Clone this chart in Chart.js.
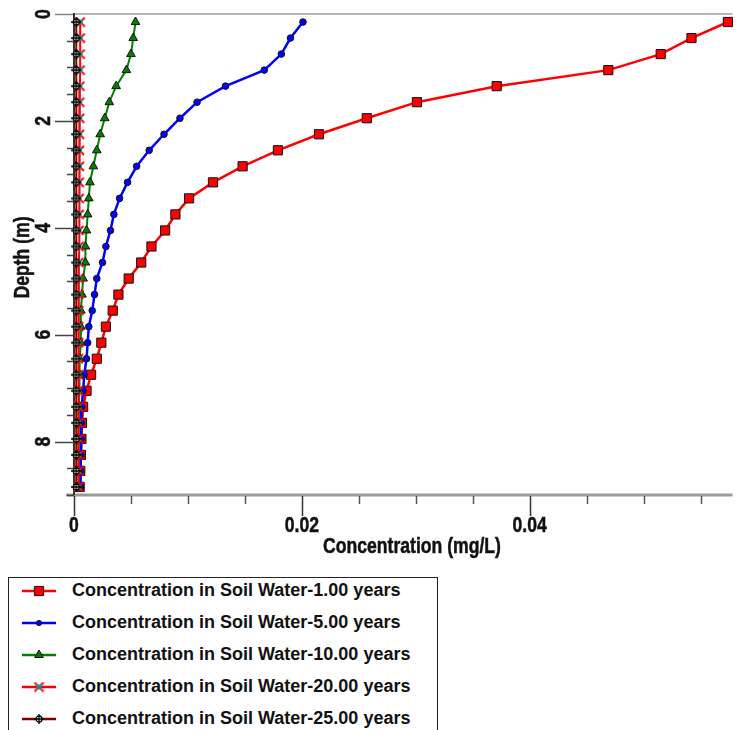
<!DOCTYPE html>
<html>
<head>
<meta charset="utf-8">
<script src="https://cdn.jsdelivr.net/npm/chart.js@4.4.1/dist/chart.umd.min.js"></script>
<style>
  html, body { margin: 0; padding: 0; background: #fff; width: 740px; height: 730px; overflow: hidden; }
  #grafica { position: absolute; left: 0; top: 0; }
  #leyenda {
    position: absolute; left: 8px; top: 577px; width: 430px; height: 170px;
    border: 1px solid #222; box-sizing: border-box;
    font: bold 18px "Liberation Sans", Arial, sans-serif; color: #111;
  }
  .fila { position: absolute; left: 0; height: 30px; white-space: nowrap; }
  .fila canvas { position: absolute; left: 0; top: 0; }
  .fila span { position: absolute; left: 63px; top: 4px; }
</style>
</head>
<body>
<canvas id="grafica" width="740" height="560"></canvas>
<div id="leyenda"></div>
<script>
// profundidades (m) de cada nodo
const profundidades = [0.15, 0.45, 0.75, 1.05, 1.35, 1.65, 1.95, 2.25, 2.55, 2.85,
  3.15, 3.45, 3.75, 4.05, 4.35, 4.65, 4.95, 5.25, 5.55, 5.85,
  6.15, 6.45, 6.75, 7.05, 7.35, 7.65, 7.95, 8.25, 8.55, 8.85];

// concentraciones (mg/L)
const conc1 = [0.0574, 0.0542, 0.0515, 0.0469, 0.0371, 0.0301, 0.0257, 0.0215, 0.0179, 0.0148,
  0.0122, 0.0101, 0.0089, 0.0080, 0.0068, 0.0059, 0.0048, 0.0039, 0.0034, 0.0028,
  0.0024, 0.0020, 0.0015, 0.0011, 0.0008, 0.0007, 0.00065, 0.0006, 0.00055, 0.0005];
const conc5 = [0.0201, 0.0190, 0.0182, 0.0167, 0.0133, 0.0108, 0.0093, 0.0079, 0.0066, 0.0055,
  0.0047, 0.0040, 0.0035, 0.0032, 0.0028, 0.0025, 0.0020, 0.0018, 0.0016, 0.0013,
  0.0012, 0.0011, 0.0009, 0.0008, 0.00068, 0.00065, 0.00063, 0.0006, 0.00058, 0.00057];
const conc10 = [0.0054, 0.0052, 0.0050, 0.0046, 0.0037, 0.0031, 0.0027, 0.0023, 0.0020, 0.0017,
  0.0014, 0.0013, 0.0012, 0.0011, 0.0010, 0.0010, 0.0008, 0.0007, 0.0006, 0.0006,
  0.0006, 0.0005, 0.0005, 0.00045, 0.00042, 0.0004, 0.0004, 0.0004, 0.0004, 0.0004];
const conc20 = [0.00055, 0.00055, 0.00054, 0.00053, 0.00052, 0.0005, 0.0005, 0.00049, 0.00048, 0.00047,
  0.00046, 0.00045, 0.00045, 0.00044, 0.00044, 0.00043, 0.00043, 0.00042, 0.00042, 0.00041,
  0.00041, 0.0004, 0.0004, 0.0004, 0.0004, 0.00039, 0.00039, 0.00038, 0.00038, 0.00038];
const conc25 = [0.0002, 0.0002, 0.0002, 0.0002, 0.0002, 0.0002, 0.0002, 0.0002, 0.0002, 0.0002,
  0.0002, 0.0002, 0.0002, 0.0002, 0.0002, 0.0002, 0.0002, 0.0002, 0.0002, 0.0002,
  0.0002, 0.0002, 0.0002, 0.0002, 0.0002, 0.0002, 0.0002, 0.0002, 0.0002, 0.0002];

const etiquetasSerie = [
  'Concentration in Soil Water-1.00 years',
  'Concentration in Soil Water-5.00 years',
  'Concentration in Soil Water-10.00 years',
  'Concentration in Soil Water-20.00 years',
  'Concentration in Soil Water-25.00 years'
];

const ticksX = [0, 0.005, 0.01, 0.015, 0.02, 0.025, 0.03, 0.035, 0.04, 0.045, 0.05, 0.055];
const etiquetasX = { 0: '0', 0.02: '0.02', 0.04: '0.04' };
const ticksY = [0, 0.5, 1, 1.5, 2, 2.5, 3, 3.5, 4, 4.5, 5, 5.5, 6, 6.5, 7, 7.5, 8, 8.5, 9];
const etiquetasY = { 0: '0', 2: '2', 4: '4', 6: '6', 8: '8' };

// fuente de los ejes (se estrecha con una escala horizontal)
const fuenteEje = 'bold 22px "Liberation Sans", Arial, sans-serif';
const estrechar = 0.8;

// marcador de la serie de 20 años: cuadro turquesa con aspa roja
function marcadorAspa(tam) {
  const c = document.createElement('canvas');
  c.width = tam; c.height = tam;
  const g = c.getContext('2d');
  const m = tam / 2;
  g.strokeStyle = '#ff0000';
  g.lineWidth = 2;
  g.beginPath();
  g.moveTo(1, 1); g.lineTo(tam - 1, tam - 1);
  g.moveTo(tam - 1, 1); g.lineTo(1, tam - 1);
  g.stroke();
  g.fillStyle = '#1f8a8a';
  g.fillRect(m - 2.5, m - 2.5, 5, 5);
  return c;
}

// marcador de la serie de 25 años: círculo blanco con cruz
function marcadorCirculoCruz(tam) {
  const c = document.createElement('canvas');
  c.width = tam; c.height = tam;
  const g = c.getContext('2d');
  const m = tam / 2;
  g.fillStyle = '#fff';
  g.strokeStyle = '#000';
  g.lineWidth = 1.3;
  g.beginPath();
  g.arc(m, m, m - 2, 0, Math.PI * 2);
  g.fill(); g.stroke();
  g.beginPath();
  g.moveTo(m, 0); g.lineTo(m, tam);
  g.moveTo(0, m); g.lineTo(tam, m);
  g.stroke();
  return c;
}

const img20 = marcadorAspa(11);
const img25 = marcadorCirculoCruz(10);

function puntos(valores) {
  return valores.map((v, i) => ({ x: v, y: profundidades[i] }));
}

const series = [
  { datos: conc1, color: '#ff0000', fondo: '#ff0000', estilo: 'rect', radio: 6.5, grosor: 2.5, orden: 4 },
  { datos: conc5, color: '#0000ff', fondo: '#0000ff', estilo: 'circle', radio: 3.3, grosor: 2.5, orden: 3 },
  { datos: conc10, color: '#008000', fondo: '#008000', estilo: 'triangle', radio: 5, grosor: 2, orden: 2 },
  { datos: conc20, color: '#ff0000', fondo: '#1f8a8a', estilo: img20, radio: 5, grosor: 2, orden: 1 },
  { datos: conc25, color: '#800000', fondo: '#ffffff', estilo: img25, radio: 5, grosor: 2, orden: 0 }
];

function textoEstrecho(ctx, texto, x, y, angulo) {
  ctx.save();
  ctx.translate(x, y);
  if (angulo) ctx.rotate(angulo);
  ctx.scale(estrechar, 1);
  ctx.fillText(texto, 0, 0);
  ctx.lineWidth = 0.5;
  ctx.strokeStyle = '#111';
  ctx.strokeText(texto, 0, 0);
  ctx.restore();
}

// ejes dibujados a mano con las escalas de Chart.js
const pluginEjes = {
  id: 'ejes',
  beforeDatasetsDraw(chart) {
    const { ctx, chartArea: { left, right, top, bottom }, scales: { x, y } } = chart;
    ctx.save();
    // borde superior
    ctx.strokeStyle = '#b4b4b4';
    ctx.lineWidth = 2;
    ctx.beginPath(); ctx.moveTo(left, top); ctx.lineTo(right, top); ctx.stroke();
    // eje x
    ctx.strokeStyle = '#9a9a9a';
    ctx.lineWidth = 3;
    ctx.beginPath(); ctx.moveTo(left - 8, bottom); ctx.lineTo(right, bottom); ctx.stroke();
    // marcas x
    ctx.lineWidth = 1.5;
    ticksX.forEach(v => {
      const px = Math.round(x.getPixelForValue(v)) + 0.5;
      const mayor = etiquetasX[v] !== undefined;
      ctx.strokeStyle = mayor ? '#333' : '#555';
      ctx.beginPath(); ctx.moveTo(px, bottom + 1); ctx.lineTo(px, bottom + (mayor ? 21 : 9)); ctx.stroke();
    });
    // marcas y
    ticksY.forEach(v => {
      const py = Math.round(y.getPixelForValue(v)) + 0.5;
      const mayor = etiquetasY[v] !== undefined;
      ctx.strokeStyle = v === 0 ? '#888' : '#444';
      ctx.beginPath(); ctx.moveTo(left - (mayor ? 19 : 7), py); ctx.lineTo(left, py); ctx.stroke();
    });
    // eje y
    ctx.strokeStyle = '#333';
    ctx.lineWidth = 2;
    ctx.beginPath(); ctx.moveTo(left, top - 1); ctx.lineTo(left, bottom); ctx.stroke();

    // textos
    ctx.fillStyle = '#111';
    ctx.font = fuenteEje;
    ctx.textAlign = 'center';
    ctx.textBaseline = 'top';
    Object.keys(etiquetasX).forEach(k => {
      textoEstrecho(ctx, etiquetasX[k], x.getPixelForValue(Number(k)), bottom + 20);
    });
    textoEstrecho(ctx, 'Concentration (mg/L)', 412, bottom + 41);

    ctx.textBaseline = 'middle';
    Object.keys(etiquetasY).forEach(k => {
      textoEstrecho(ctx, etiquetasY[k], 44, y.getPixelForValue(Number(k)), -Math.PI / 2);
    });
    textoEstrecho(ctx, 'Depth (m)', 23, (top + bottom) / 2 + 3, -Math.PI / 2);
    ctx.restore();
  }
};

const grafica = new Chart(document.getElementById('grafica').getContext('2d'), {
  type: 'scatter',
  data: {
    datasets: series.map((s, i) => ({
      label: etiquetasSerie[i],
      data: puntos(s.datos),
      showLine: true,
      borderColor: s.color,
      backgroundColor: s.fondo,
      borderWidth: s.grosor,
      pointStyle: s.estilo,
      pointRadius: s.radio,
      pointBorderColor: '#111',
      pointBorderWidth: 1,
      pointBackgroundColor: s.fondo,
      tension: 0,
      clip: false,
      order: s.orden
    }))
  },
  options: {
    responsive: false,
    animation: false,
    devicePixelRatio: 1,
    layout: { padding: { left: 74, top: 14, right: 0, bottom: 65 } },
    scales: {
      x: { type: 'linear', min: 0, max: 0.0578, display: false },
      y: { type: 'linear', min: 0, max: 9, reverse: true, display: false }
    },
    plugins: { legend: { display: false }, tooltip: { enabled: false } }
  },
  plugins: [pluginEjes]
});

// leyenda en HTML con muestras de línea y marcador
const leyenda = document.getElementById('leyenda');
series.forEach((s, i) => {
  const fila = document.createElement('div');
  fila.className = 'fila';
  fila.style.top = (-2 + i * 32) + 'px';
  fila.style.width = '420px';
  const muestra = document.createElement('canvas');
  muestra.width = 60; muestra.height = 30;
  const g = muestra.getContext('2d');
  g.strokeStyle = s.color;
  g.lineWidth = 2.5;
  g.beginPath(); g.moveTo(13, 15); g.lineTo(47, 15); g.stroke();
  g.fillStyle = s.fondo;
  g.strokeStyle = '#111';
  g.lineWidth = 1;
  const radioLeyenda = s.estilo === 'circle' ? 2.6 : s.radio;
  Chart.helpers.drawPoint(g, { pointStyle: s.estilo, radius: radioLeyenda, borderWidth: 1, rotation: 0 }, 30, 15);
  const texto = document.createElement('span');
  texto.textContent = etiquetasSerie[i];
  fila.appendChild(muestra);
  fila.appendChild(texto);
  leyenda.appendChild(fila);
});
</script>
</body>
</html>
